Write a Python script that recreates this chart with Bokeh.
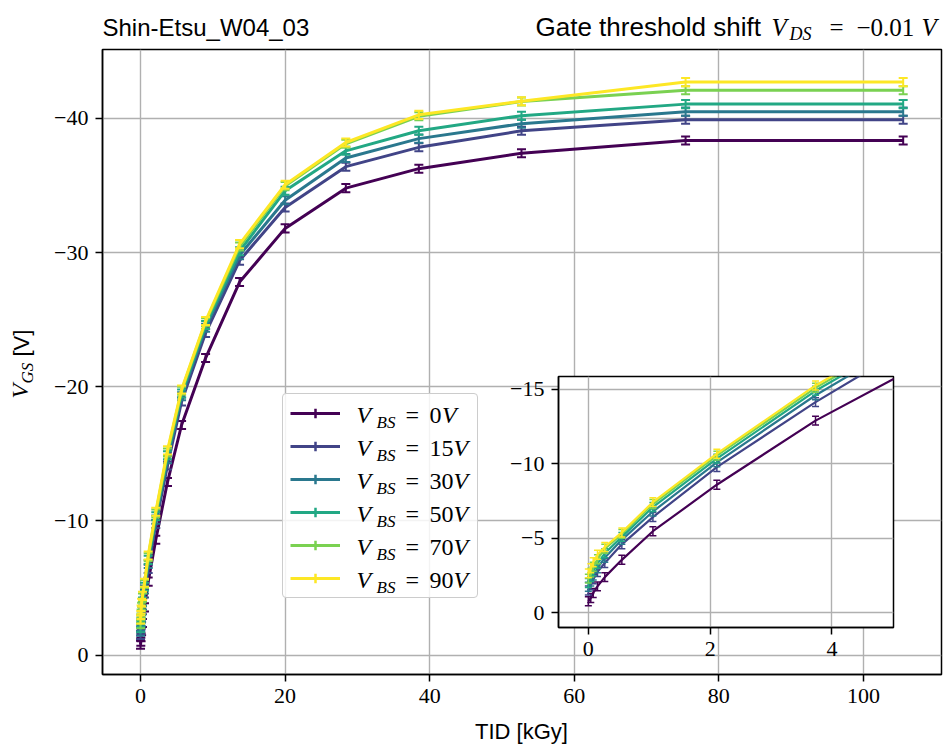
import math
from bokeh.plotting import figure
from bokeh.models import Range1d, Label, Legend, LegendItem, FixedTicker, CustomJSTickFormatter
from bokeh.layouts import column
from bokeh.embed import file_html
from bokeh.resources import INLINE

# ---------------- data ----------------
tid = [0.0, 0.04, 0.08, 0.15, 0.27, 0.55, 1.06, 2.11, 3.73, 5.68, 9.0, 13.7, 20.0, 28.4, 38.5, 52.7, 75.4, 105.5]

vgs_0V = [-0.78, -1.00, -1.34, -1.78, -2.40, -3.56, -5.48, -8.60, -12.90, -17.15, -22.14, -27.80, -31.80, -34.80, -36.25, -37.40, -38.35, -38.35]
vgs_15V = [-1.50, -1.85, -2.25, -2.75, -3.35, -4.60, -6.43, -9.78, -14.14, -18.90, -24.00, -29.40, -33.36, -36.40, -37.84, -39.07, -39.90, -39.90]
vgs_30V = [-1.75, -2.10, -2.50, -3.00, -3.70, -4.90, -6.80, -10.10, -14.60, -19.30, -24.40, -29.80, -33.90, -37.04, -38.49, -39.60, -40.50, -40.50]
vgs_50V = [-2.00, -2.40, -2.80, -3.30, -4.00, -5.10, -7.10, -10.35, -14.90, -19.50, -24.60, -30.10, -34.60, -37.58, -39.08, -40.20, -41.06, -41.06]
vgs_70V = [-2.30, -2.70, -3.10, -3.60, -4.30, -5.30, -7.30, -10.55, -15.10, -19.70, -24.80, -30.45, -34.95, -38.10, -40.15, -41.25, -42.10, -42.10]
vgs_90V = [-2.65, -3.00, -3.40, -3.90, -4.42, -5.40, -7.43, -10.68, -15.26, -19.80, -24.90, -30.63, -35.05, -38.20, -40.26, -41.28, -42.70, -42.70]

vgs_err = [0.30, 0.30, 0.30, 0.30, 0.30, 0.30, 0.30, 0.30, 0.30, 0.30, 0.30, 0.30, 0.30, 0.30, 0.30, 0.30, 0.30, 0.30]

vbs_values = ["0", "15", "30", "50", "70", "90"]
series = [vgs_0V, vgs_15V, vgs_30V, vgs_50V, vgs_70V, vgs_90V]
colors = ["#440154", "#414487", "#2a788e", "#22a884", "#7ad151", "#fde725"]

main_xticks = [0, 20, 40, 60, 80, 100]
main_yticks = [0, -10, -20, -30, -40]
inset_xticks = [0, 2, 4]
inset_yticks = [0, -5, -10, -15]

SANS = "Liberation Sans"
SERIF = "Liberation Serif"
TICK_SIZE = "22px"

minus_fmt = CustomJSTickFormatter(code="return (tick < 0 ? '\u2212' : '') + Math.abs(tick).toString();")

# ---------------- main figure ----------------
W, H = 946, 744
FB = 674  # frame bottom on page
p = figure(width=W, height=H, title=None,
           x_range=Range1d(-5.26, 110.8), y_range=Range1d(1.44, -45.13),
           output_backend="svg", toolbar_location=None,
           min_border_left=102, min_border_right=5, min_border_top=49, min_border_bottom=H - FB)


def style_axes(fig):
    fig.outline_line_color = "black"
    fig.outline_line_width = 1.5
    fig.outline_line_alpha = 1.0
    for ax in (fig.xaxis, fig.yaxis):
        ax.axis_line_color = "black"
        ax.axis_line_width = 1.5
        ax.major_tick_line_color = "black"
        ax.major_tick_line_width = 1.5
        ax.major_tick_out = 7
        ax.major_tick_in = 0
        ax.minor_tick_line_color = None
        ax.major_label_text_font = SERIF
        ax.major_label_text_font_size = TICK_SIZE
        ax.major_label_text_color = "black"
        ax.major_label_standoff = 7
        ax.formatter = minus_fmt
    fig.grid.grid_line_color = "#b0b0b0"
    fig.grid.grid_line_width = 1.4


style_axes(p)
p.xaxis.ticker = FixedTicker(ticks=main_xticks)
p.yaxis.ticker = FixedTicker(ticks=main_yticks)

legend_items = []
for vals, col in zip(series, colors):
    lo = [v - e for v, e in zip(vals, vgs_err)]
    hi = [v + e for v, e in zip(vals, vgs_err)]
    ln = p.line(tid, vals, line_color=col, line_width=3)
    p.segment(x0=tid, y0=lo, x1=tid, y1=hi, line_color=col, line_width=2)
    p.scatter(x=tid + tid, y=lo + hi, marker="dash", size=9, line_color=col, line_width=2)
    cross = p.scatter(x=tid[:1], y=vals[:1], marker="cross", size=0, line_color=col, line_width=2.5)
    legend_items.append(LegendItem(label=" ", renderers=[ln, cross]))

legend = Legend(items=legend_items, location=(180, 76), padding=7, spacing=9,
                glyph_height=24, glyph_width=50, label_standoff=17, label_width=113,
                label_height=24, label_text_font_size="10px",
                border_line_color="#cccccc", border_line_width=1.5, border_line_alpha=1.0,
                background_fill_color="white", background_fill_alpha=0.85, margin=0)
try:
    legend.border_radius = 4
except Exception:
    pass
p.add_layout(legend)

# ---------------- inset figure ----------------
# column layout aligns left/right borders of its plots: keep them equal to the main figure's
INS_TOP = 370
INS_H = 299
ins = figure(width=102 + 335 + 5, height=INS_H, title=None,
             x_range=Range1d(-0.49, 5.01), y_range=Range1d(0.98, -15.86),
             output_backend="svg", toolbar_location=None,
             min_border_left=102, min_border_right=5, min_border_top=6, min_border_bottom=42,
             margin=(INS_TOP - H, 0, 0, 558 - 102))
ins.border_fill_color = None
ins.background_fill_color = "white"
style_axes(ins)
ins.xaxis.ticker = FixedTicker(ticks=inset_xticks)
ins.yaxis.ticker = FixedTicker(ticks=inset_yticks)

for vals, col in zip(series, colors):
    lo = [v - e for v, e in zip(vals, vgs_err)]
    hi = [v + e for v, e in zip(vals, vgs_err)]
    ins.line(tid, vals, line_color=col, line_width=2.2)
    ins.segment(x0=tid, y0=lo, x1=tid, y1=hi, line_color=col, line_width=1.5)
    ins.scatter(x=tid + tid, y=lo + hi, marker="dash", size=7, line_color=col, line_width=1.5)

# ---------------- text overlay (transparent figure covering the page) ----------------
ov = figure(width=W, height=H, title=None, x_range=Range1d(0, W), y_range=Range1d(0, H),
            x_axis_type=None, y_axis_type=None, output_backend="svg", toolbar_location=None,
            min_border=0, styles={"position": "absolute", "left": "0px", "top": "0px", "z-index": "5"})
ov.background_fill_color = None
ov.border_fill_color = None
ov.outline_line_color = None


def lab(text, xp, yp, font, size, style="normal", angle=0.0, align="left"):
    """xp, yp: page position of the text baseline start; converted to a 'middle' anchor."""
    px = float(size.replace("px", ""))
    d = 0.34 * px
    if angle:
        xp = xp - d
    else:
        yp = yp - d
    ov.add_layout(Label(x=xp, y=H - yp, x_units="screen", y_units="screen", text=text,
                        text_font=font, text_font_size=size, text_font_style=style,
                        text_color="black", text_align=align, text_baseline="middle",
                        angle=angle))


# legend labels  V_BS = xV
for i, v in enumerate(vbs_values):
    by = 423 + 33 * i
    lab("V", 356, by, SERIF, "24px", "italic")
    lab("BS", 376, by + 5, SERIF, "17px", "italic")
    lab("=", 405, by, SERIF, "24px")
    lab(v, 429, by, SERIF, "24px")
    lab("V", 430 + 11.5 * len(v), by, SERIF, "24px", "italic")

# titles
lab("Shin-Etsu_W04_03", 102, 35, SANS, "24px")
lab("Gate threshold shift", 535, 35, SANS, "26px")
lab("V", 771, 35, SERIF, "25px", "italic")
lab("DS", 789, 40, SERIF, "18px", "italic")
lab("=", 829, 35, SERIF, "25px")
lab("\u22120.01", 856, 35, SERIF, "25px")
lab("V", 921, 35, SERIF, "25px", "italic")

# x axis label
lab("TID [kGy]", 521, 738, SANS, "22px", align="center")

# y axis label (rotated)
lab("V", 28, 398, SERIF, "24px", "italic", angle=math.pi / 2)
lab("GS", 33, 383, SERIF, "17px", "italic", angle=math.pi / 2)
lab("[V]", 28, 356, SANS, "22px", angle=math.pi / 2)

layout = column(p, ins, spacing=0)
open("out.html", "w").write(file_html([layout, ov], INLINE))
